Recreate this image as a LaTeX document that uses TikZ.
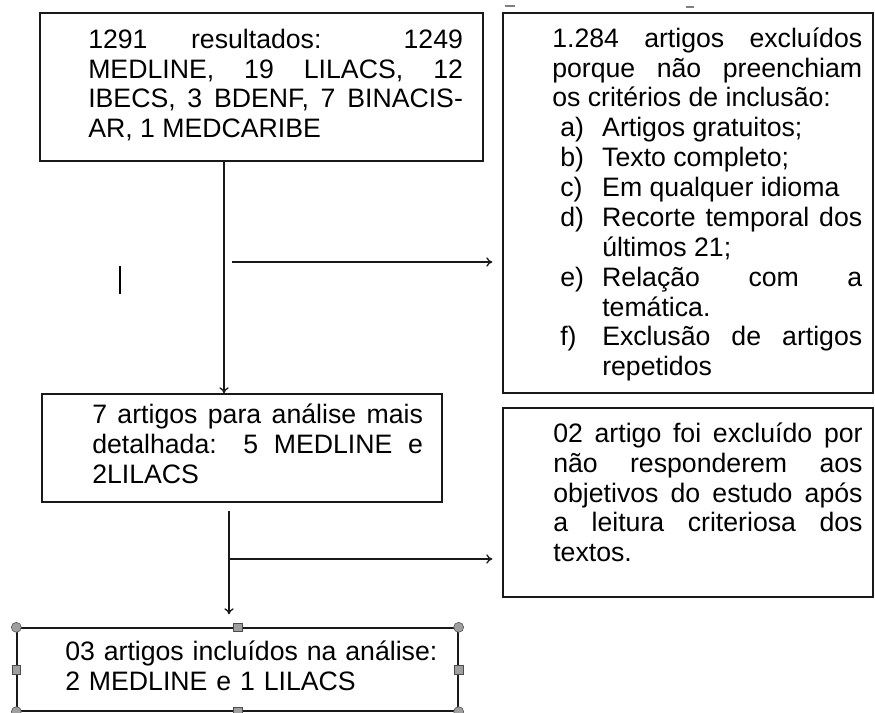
\documentclass[tikz,border=0pt]{standalone}
\usepackage{fontspec}
\setmainfont{Liberation Sans}
\usepackage{tikz}
\usetikzlibrary{arrows,arrows.meta,positioning}

\newcommand{\critem}[2]{\par\hangindent=37.5pt\hangafter=1\noindent\makebox[37.5pt][l]{\hspace{6pt}#1}#2\par}
\newcommand{\firstline}{\rule{0pt}{18pt}}

\begin{document}
\begin{tikzpicture}[x=0.75pt, y=-0.75pt, >={To[length=4.5pt,width=7pt]}]
		\tikzstyle{stagebox} = [rectangle, draw=black!90, line width=1pt, inner sep=0pt]
		\tikzstyle{boxtext} = [anchor=north west, inner sep=0pt, align=justify, font={\fontsize{20}{22.4}\selectfont\tolerance=10000\hbadness=10000\parskip=0pt}]
		\tikzstyle{flow} = [->, line width=1pt, black!90]
		\tikzstyle{grip} = [circle, draw=gray!60!black, fill=gray!75, line width=0.4pt, minimum size=7.5pt, inner sep=0pt]
		\tikzstyle{gripsq} = [rectangle, draw=gray!60!black, fill=gray!75, line width=0.4pt, minimum size=6.5pt, inner sep=0pt]

		\useasboundingbox (0,0) rectangle (875,713);

		% Search results
		\node (res) [stagebox, minimum width=332.25pt, minimum height=111pt] at (261.5,87) {};
		\node (restxt) [boxtext, text width=281pt] at (88,24) {\noindent\firstline 1291 resultados: 1249\linebreak MEDLINE, 19 LILACS, 12\linebreak IBECS, 3 BDENF, 7 BINACIS-\linebreak AR, 1 MEDCARIBE};

		% Excluded by criteria
		\node (excl) [stagebox, minimum width=277.5pt, minimum height=285pt] at (688,203) {};
		\node (excltxt) [boxtext, text width=232.5pt] at (552,23) {\noindent\firstline 1.284 artigos excluídos\linebreak porque não preenchiam\linebreak os critérios de inclusão:\par
			\critem{a)}{Artigos gratuitos;}
			\critem{b)}{Texto completo;}
			\critem{c)}{Em qualquer idioma}
			\critem{d)}{Recorte temporal dos\linebreak últimos 21;}
			\critem{e)}{Relação com a\linebreak temática.}
			\critem{f)}{Exclusão de artigos\linebreak repetidos}};

		% Detailed analysis
		\node (det) [stagebox, minimum width=300pt, minimum height=81pt] at (242,448) {};
		\node (dettxt) [boxtext, text width=248pt] at (92,399) {\noindent\firstline 7 artigos para análise mais\linebreak detalhada: 5 MEDLINE e\linebreak 2LILACS};

		% Excluded after reading
		\node (read) [stagebox, minimum width=277.5pt, minimum height=141.75pt] at (688,502.5) {};
		\node (readtxt) [boxtext, text width=232pt] at (553,418) {\noindent\firstline 02 artigo foi excluído por\linebreak não responderem aos\linebreak objetivos do estudo após\linebreak a leitura criteriosa dos\linebreak textos.};

		% Included
		\node (inc) [stagebox, minimum width=330.75pt, minimum height=62.25pt] at (237.5,669.5) {};
		\node (inctxt) [boxtext, text width=300pt, align=left] at (65,636) {\firstline 03 artigos incluídos na análise:\\ 2 MEDLINE e 1 LILACS};

		% Selection handles
		\foreach \a/\n in {north west/1, north east/2, south west/3, south east/4}
		\node (hc\n) [grip] at (inc.\a) {};
		\foreach \a/\n in {north/1, south/2, west/3, east/4}
		\node (hs\n) [gripsq] at (inc.\a) {};

		% Flow lines
		\coordinate (v1) at (224,0);
		\coordinate (j1) at (232,262);
		\coordinate (v2) at (229,0);
		\coordinate (j2) at (229,559);
		\draw[flow] (res.south -| v1) -- (det.north -| v1);
		\draw[flow, shorten >=7.5pt] (j1) -- (j1 -| excl.west);
		\draw[flow, shorten <=6pt, shorten >=9.75pt] (det.south -| v2) -- (inc.north -| v2);
		\draw[flow, shorten >=7.5pt] (j2) -- (j2 -| read.west);

		% Cursor and stray marks
		\draw[line width=1pt] (120,266) -- (120,294);
		\draw[gray, line width=1pt] (505,6) -- (515,6);
		\draw[gray, line width=1pt] (686,7) -- (694,7);
	\end{tikzpicture}
\end{document}
